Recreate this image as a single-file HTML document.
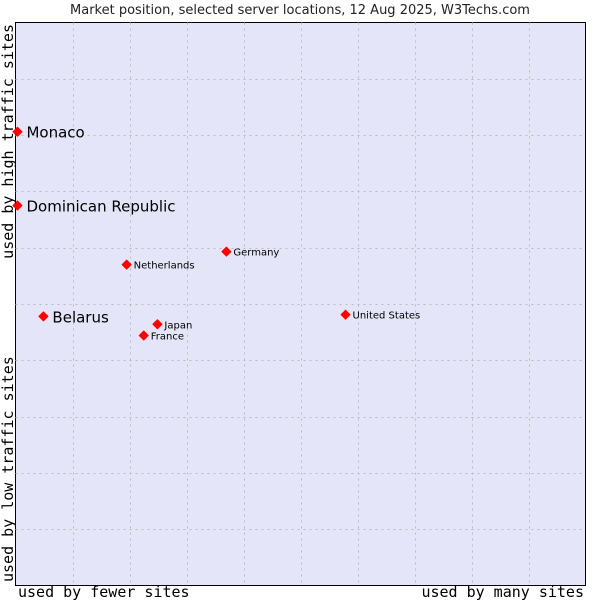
<!DOCTYPE html>
<html><head><meta charset="utf-8"><style>
body{margin:0;background:#fff;width:600px;height:600px;overflow:hidden}
svg{display:block}
</style></head><body>
<svg id="chart" width="600" height="600" xmlns="http://www.w3.org/2000/svg">
<text x="300" y="14" text-anchor="middle" font-family="DejaVu Sans, sans-serif" font-size="13" fill="#222">Market position, selected server locations, 12 Aug 2025, W3Techs.com</text>
<rect x="15.5" y="22.5" width="570" height="563" fill="#e4e5f8" stroke="#000" stroke-width="1"/>
<g id="grid"></g>
<g id="points"></g>
<text x="18" y="597" font-family="DejaVu Sans Mono, monospace" font-size="15" fill="#000">used by fewer sites</text>
<text x="584" y="597" text-anchor="end" font-family="DejaVu Sans Mono, monospace" font-size="15" fill="#000">used by many sites</text>
<text transform="translate(13,582) rotate(-90)" font-family="DejaVu Sans Mono, monospace" font-size="15" fill="#000">used by low traffic sites</text>
<text transform="translate(13,24) rotate(-90)" text-anchor="end" font-family="DejaVu Sans Mono, monospace" font-size="15" fill="#000">used by high traffic sites</text>
</svg>
<script>
const names=["Monaco","Dominican Republic","Belarus","Netherlands","Germany","Japan","France","United States"];
const xValues=[0.35,0.35,4.9,19.5,37.0,24.9,22.5,57.9];
const yValues=[80.6,67.5,47.8,57.0,59.3,46.4,44.4,48.1];
const bigLabel=[true,true,true,false,false,false,false,false];
const NS="http://www.w3.org/2000/svg";
const L=15.5,T=22.5,W=570,H=563;
const xs=v=>L+v/100*W, ys=v=>T+H-v/100*H;
const grid=document.getElementById('grid');
for(let i=1;i<10;i++){
  const vx=document.createElementNS(NS,'line');
  const x=Math.round(L+i*W/10)+0.5;
  vx.setAttribute('x1',x);vx.setAttribute('x2',x);vx.setAttribute('y1',T);vx.setAttribute('y2',T+H);
  vx.setAttribute('stroke','#bbbbbb');vx.setAttribute('stroke-dasharray','2,4');
  
  
  grid.appendChild(vx);
  const hz=document.createElementNS(NS,'line');
  const y=Math.round(T+i*H/10)+0.5;
  hz.setAttribute('x1',L);hz.setAttribute('x2',L+W);hz.setAttribute('y1',y);hz.setAttribute('y2',y);
  hz.setAttribute('stroke','#bbbbbb');hz.setAttribute('stroke-dasharray','2,4');
  
  
  grid.appendChild(hz);
}
const pts=document.getElementById('points');
names.forEach((n,i)=>{
  const x=xs(xValues[i]),y=ys(yValues[i]);
  const d=document.createElementNS(NS,'path');
  d.setAttribute('d',`M${x-4.5},${y}L${x},${y-4.5}L${x+4.5},${y}L${x},${y+4.5}Z`);
  d.setAttribute('fill','#f00');
  d.setAttribute('stroke','#f00');
  d.setAttribute('stroke-width','1');
  d.setAttribute('stroke-linejoin','round');
  
  
  pts.appendChild(d);
  const t=document.createElementNS(NS,'text');
  t.setAttribute('x',x+(bigLabel[i]?9:7));
  t.setAttribute('y',y+(bigLabel[i]?6:4));
  t.setAttribute('font-family','DejaVu Sans, sans-serif');
  t.setAttribute('font-size',bigLabel[i]?15:10);
  t.setAttribute('fill','#000');
  t.textContent=n;
  
  
  pts.appendChild(t);
});
</script>
</body></html>
